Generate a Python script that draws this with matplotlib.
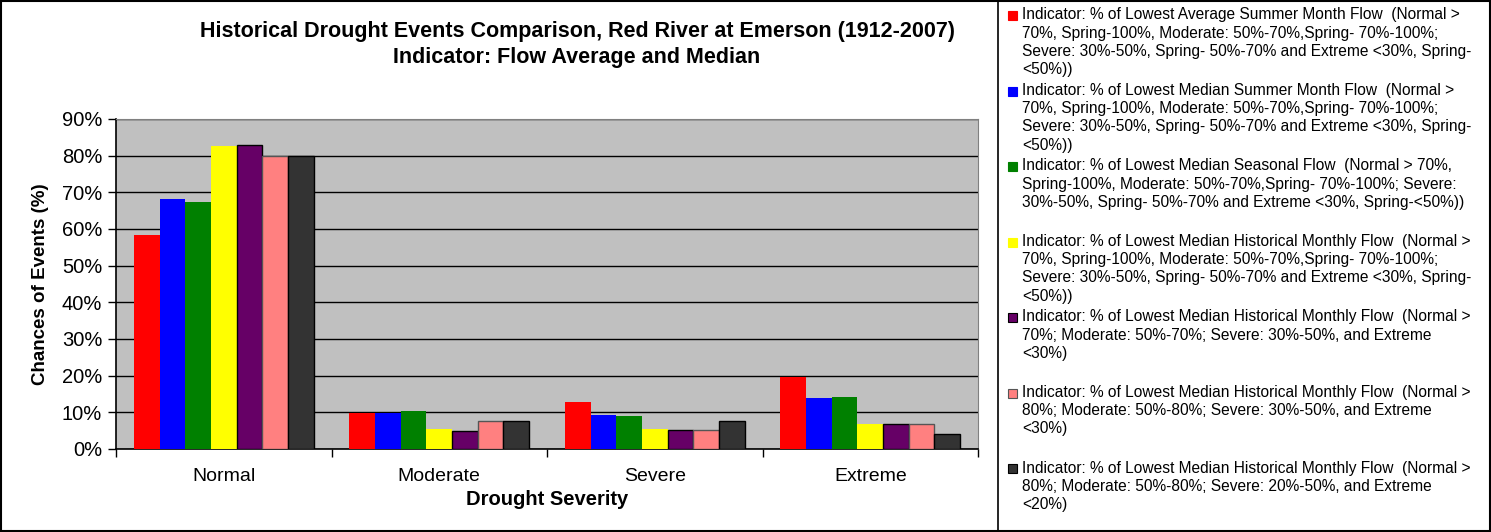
import numpy as np
import matplotlib; matplotlib.use("Agg")
import matplotlib.pyplot as plt
from matplotlib.patches import Rectangle

plt.rcParams["font.family"] = ["Liberation Sans", "DejaVu Sans"]

categories = ["Normal", "Moderate", "Severe", "Extreme"]
series_labels = [
    "Indicator: % of Lowest Average Summer Month Flow  (Normal >\n70%, Spring-100%, Moderate: 50%-70%,Spring- 70%-100%;\nSevere: 30%-50%, Spring- 50%-70% and Extreme <30%, Spring-\n<50%))",
    "Indicator: % of Lowest Median Summer Month Flow  (Normal >\n70%, Spring-100%, Moderate: 50%-70%,Spring- 70%-100%;\nSevere: 30%-50%, Spring- 50%-70% and Extreme <30%, Spring-\n<50%))",
    "Indicator: % of Lowest Median Seasonal Flow  (Normal > 70%,\nSpring-100%, Moderate: 50%-70%,Spring- 70%-100%; Severe:\n30%-50%, Spring- 50%-70% and Extreme <30%, Spring-<50%))",
    "Indicator: % of Lowest Median Historical Monthly Flow  (Normal >\n70%, Spring-100%, Moderate: 50%-70%,Spring- 70%-100%;\nSevere: 30%-50%, Spring- 50%-70% and Extreme <30%, Spring-\n<50%))",
    "Indicator: % of Lowest Median Historical Monthly Flow  (Normal >\n70%; Moderate: 50%-70%; Severe: 30%-50%, and Extreme\n<30%)",
    "Indicator: % of Lowest Median Historical Monthly Flow  (Normal >\n80%; Moderate: 50%-80%; Severe: 30%-50%, and Extreme\n<30%)",
    "Indicator: % of Lowest Median Historical Monthly Flow  (Normal >\n80%; Moderate: 50%-80%; Severe: 20%-50%, and Extreme\n<20%)",
]
colors = ["#FF0000", "#0000FF", "#008000", "#FFFF00", "#660066", "#FF8080", "#333333"]
edges = ["none", "none", "none", "none", "black", "#555555", "black"]

# chances of events (%) per indicator, order: Normal, Moderate, Severe, Extreme
avg_summer = [58.4, 9.8, 12.9, 19.6]
med_summer = [68.1, 9.8, 9.4, 13.8]
med_seasonal = [67.3, 10.5, 9.0, 14.2]
med_hist_a = [82.6, 5.5, 5.5, 6.9]
med_hist_b = [82.9, 5.0, 5.3, 6.9]
med_hist_c = [79.8, 7.7, 5.3, 6.9]
med_hist_d = [79.8, 7.7, 7.7, 4.1]
values = [avg_summer, med_summer, med_seasonal, med_hist_a, med_hist_b, med_hist_c, med_hist_d]

fig = plt.figure(figsize=(14.91, 5.32), dpi=100)
ax = fig.add_axes([116/1491, 83/532, 862/1491, 330/532])
ax.set_facecolor("#C0C0C0")

x = np.arange(len(categories))
w = 0.119
for i, vals in enumerate(values):
    ax.bar(x + (i - 3) * w, vals, w, color=colors[i], edgecolor=edges[i],
           linewidth=1.0 if edges[i] != "none" else 0, zorder=3)

ax.set_xlim(-0.5, 3.5)
ax.set_ylim(0, 90)
ax.set_yticks(np.arange(0, 91, 10))
ax.set_yticklabels([f"{v}%" for v in range(0, 91, 10)], fontsize=14.5)
ax.yaxis.grid(True, color="black", lw=1.0, zorder=1)
ax.set_xticks(x)
ax.set_xticklabels(categories, fontsize=14)
ax.tick_params(axis="x", which="major", length=0, pad=14)
ax.set_xticks([-0.5, 0.5, 1.5, 2.5, 3.5], minor=True)
ax.tick_params(axis="x", which="minor", length=6, width=1, direction="out")
ax.tick_params(axis="y", length=6, width=1, direction="out", pad=4)
for s in ["top", "right"]:
    ax.spines[s].set_color("#808080")
for s in ["left", "bottom"]:
    ax.spines[s].set_color("black")
    ax.spines[s].set_linewidth(1.2)
ax.set_xlabel("Drought Severity", fontsize=14.5, fontweight="bold", labelpad=3)
ax.set_ylabel("Chances of Events (%)", fontsize=13.5, fontweight="bold", labelpad=9)

fig.text(577/1491, 1 - 31/532, "Historical Drought Events Comparison, Red River at Emerson (1912-2007)",
         ha="center", va="center", fontsize=15.5, fontweight="bold")
fig.text(577/1491, 1 - 57/532, "Indicator: Flow Average and Median",
         ha="center", va="center", fontsize=15.5, fontweight="bold")

# legend panel
for k, lab in enumerate(series_labels):
    ytop = 1 - (7.5 + k * 75.5) / 532
    fig.text(1022/1491, ytop, lab, ha="left", va="top", fontsize=11.2, linespacing=1.27)
    fig.patches.append(Rectangle((1008/1491, ytop - 12.5/532), 9/1491, 9/532,
                                 transform=fig.transFigure, facecolor=colors[k],
                                 edgecolor=edges[k] if edges[k] != "none" else colors[k], lw=0.8))

# outer frame and separator
fig.patches.append(Rectangle((1/1491, 1/532), 1489/1491, 530/532, transform=fig.transFigure,
                             fill=False, edgecolor="black", lw=1.5))
fig.add_artist(plt.Line2D([998/1491, 998/1491], [0, 1], transform=fig.transFigure, color="black", lw=1.2))

fig.savefig("out.png", dpi=100)
